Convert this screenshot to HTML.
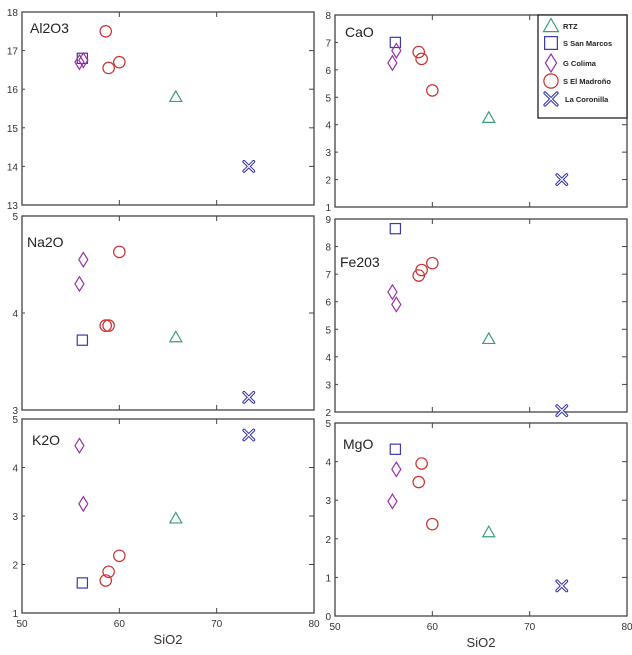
<!DOCTYPE html>
<html><head><meta charset="utf-8"><style>
body{margin:0;background:#fff;}
svg text{font-family:"Liberation Sans",sans-serif;}
</style></head><body>
<svg id="c" width="632" height="650" xmlns="http://www.w3.org/2000/svg"></svg>
<script>
const seriesNames=["RTZ","S San Marcos","G Colima","S El Madroño","La Coronilla"];
const sio2RTZ=[65.8], sio2SSM=[56.2], sio2GC=[55.9,56.3], sio2SEM=[58.6,58.9,60], sio2LC=[73.3];
const al2o3RTZ=[15.8], al2o3SSM=[16.8], al2o3GC=[16.7,16.75], al2o3SEM=[17.5,16.55,16.7], al2o3LC=[14.0];
const caoRTZ=[4.25], caoSSM=[7.0], caoGC=[6.25,6.7], caoSEM=[6.65,6.4,5.25], caoLC=[2.0];
const na2oRTZ=[3.75], na2oSSM=[3.72], na2oGC=[4.3,4.55], na2oSEM=[3.87,3.87,4.63], na2oLC=[3.13];
const fe2o3RTZ=[4.65], fe2o3SSM=[8.65], fe2o3GC=[6.35,5.9], fe2o3SEM=[6.95,7.15,7.4], fe2o3LC=[2.05];
const k2oRTZ=[2.95], k2oSSM=[1.62], k2oGC=[4.45,3.25], k2oSEM=[1.67,1.85,2.18], k2oLC=[4.67];
const mgoRTZ=[2.17], mgoSSM=[4.32], mgoGC=[2.97,3.8], mgoSEM=[3.47,3.95,2.38], mgoLC=[0.78];
const xTicks=[50,60,70,80];
const panels=[
 {name:"Al2O3",key:"al2o3",yMin:13,yMax:18,box:[22,12,314,205],lab:[30,33],data:[al2o3RTZ,al2o3SSM,al2o3GC,al2o3SEM,al2o3LC],xl:false},
 {name:"CaO",key:"cao",yMin:1,yMax:8,box:[335,15,627,207],lab:[345,37],data:[caoRTZ,caoSSM,caoGC,caoSEM,caoLC],xl:false},
 {name:"Na2O",key:"na2o",yMin:3,yMax:5,box:[22,216,314,410],lab:[27,247],data:[na2oRTZ,na2oSSM,na2oGC,na2oSEM,na2oLC],xl:false},
 {name:"Fe203",key:"fe2o3",yMin:2,yMax:9,box:[335,219,627,412],lab:[340,267],data:[fe2o3RTZ,fe2o3SSM,fe2o3GC,fe2o3SEM,fe2o3LC],xl:false},
 {name:"K2O",key:"k2o",yMin:1,yMax:5,box:[22,419,314,613],lab:[32,445],data:[k2oRTZ,k2oSSM,k2oGC,k2oSEM,k2oLC],xl:true},
 {name:"MgO",key:"mgo",yMin:0,yMax:5,box:[335,423,627,616],lab:[343,449],data:[mgoRTZ,mgoSSM,mgoGC,mgoSEM,mgoLC],xl:true}
];
const xData=[sio2RTZ,sio2SSM,sio2GC,sio2SEM,sio2LC];
const colors=["#3a9e78","#3b3baa","#9a30aa","#cc3030","#2e2ea8"];
const NS="http://www.w3.org/2000/svg";
const svg=document.getElementById('c');
function mk(t,a,p){const e=document.createElementNS(NS,t);for(const k in a)e.setAttribute(k,a[k]);(p||svg).appendChild(e);return e;}
function marker(s,x,y,g,sz){
 const c=colors[s];const r=sz||6;let e;
 if(s===0)e=mk('polygon',{points:`${x},${y-r} ${x+r},${y+r*0.75} ${x-r},${y+r*0.75}`,fill:'none',stroke:c,'stroke-width':1.2},g);
 else if(s===1)e=mk('rect',{x:x-r*0.85,y:y-r*0.85,width:r*1.7,height:r*1.7,fill:'none',stroke:c,'stroke-width':1.2},g);
 else if(s===2)e=mk('polygon',{points:`${x},${y-r*1.2} ${x+r*0.75},${y} ${x},${y+r*1.2} ${x-r*0.75},${y}`,fill:'none',stroke:c,'stroke-width':1.2},g);
 else if(s===3)e=mk('circle',{cx:x,cy:y,r:r*0.95,fill:'none',stroke:c,'stroke-width':1.2},g);
 else{const d=r*0.8;e=mk('path',{d:`M${x-d},${y-d}L${x+d},${y+d}M${x+d},${y-d}L${x-d},${y+d}`,stroke:c,'stroke-width':3.2,fill:'none','stroke-linecap':'round'},g);
  mk('path',{d:`M${x-d},${y-d}L${x+d},${y+d}M${x+d},${y-d}L${x-d},${y+d}`,stroke:'#fff','stroke-width':1.2,fill:'none','stroke-linecap':'round'},g);}
 return e;
}
panels.forEach(p=>{
 const [x0,y0,x1,y1]=p.box;
 const g=mk('g',{});
 
 
 const sx=v=>x0+(v-50)/30*(x1-x0);
 const sy=v=>y1-(v-p.yMin)/(p.yMax-p.yMin)*(y1-y0);
 const fr=mk('rect',{x:x0,y:y0,width:x1-x0,height:y1-y0,fill:'none',stroke:'#444','stroke-width':1.3},g);
 
 
 xTicks.slice(1,3).forEach(t=>{
  mk('line',{x1:sx(t),x2:sx(t),y1:y0,y2:y0+5,stroke:'#444'},g);
  mk('line',{x1:sx(t),x2:sx(t),y1:y1,y2:y1-5,stroke:'#444'},g);
 });
 for(let v=p.yMin;v<=p.yMax;v++){
  if(v>p.yMin&&v<p.yMax){mk('line',{x1:x1,x2:x1-5,y1:sy(v),y2:sy(v),stroke:'#444'},g);mk('line',{x1:x0,x2:x0+3,y1:sy(v),y2:sy(v),stroke:'#444'},g);}
  const t=mk('text',{x:x0-4,y:sy(v)+4,'text-anchor':'end','font-size':10,fill:'#333'},g);t.textContent=v;
  
  
 }
 if(p.xl){
  xTicks.forEach(t=>{const e=mk('text',{x:sx(t),y:y1+14,'text-anchor':'middle','font-size':10,fill:'#333'},g);e.textContent=t;
   
   });
  const xt=mk('text',{x:(x0+x1)/2,y:y1+31,'text-anchor':'middle','font-size':13,fill:'#333'},g);xt.textContent='SiO2';
  
  
 }
 const lt=mk('text',{x:p.lab[0],y:p.lab[1],'font-size':14,fill:'#222'},g);lt.textContent=p.name;
 
 
 p.data.forEach((ys,s)=>{ys.forEach((v,i)=>{
  const m=marker(s,sx(xData[s][i]),sy(v),g);
  
  
 });});
});
const lg=mk('g',{});


mk('rect',{x:538,y:15,width:89,height:103,fill:'#fff',stroke:'#222','stroke-width':1.3},lg);
const ly=[26,43,63,81,99];
seriesNames.forEach((n,s)=>{
 marker(s,551,ly[s],lg,7.5);
 const t=mk('text',{x:s===4?565:563,y:ly[s]+3,'font-size':7.5,'font-weight':'bold',fill:'#222'},lg);t.textContent=n;
 
 
});
</script>
</body></html>
